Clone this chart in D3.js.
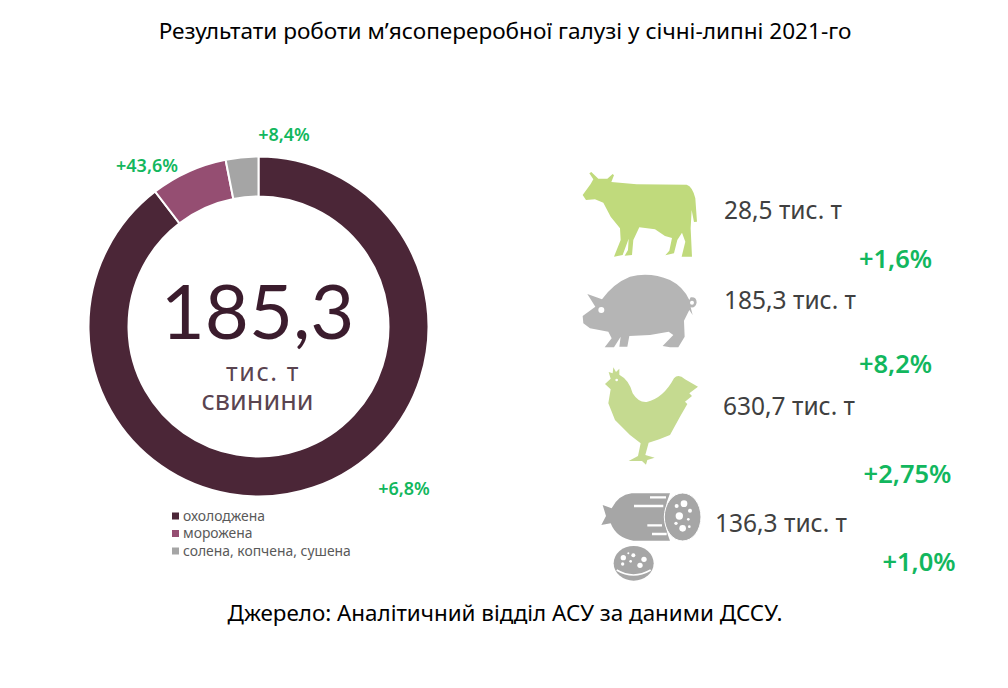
<!DOCTYPE html>
<html>
<head>
<meta charset="utf-8">
<title>М'ясопереробна галузь</title>
<script src="https://d3js.org/d3.v7.min.js"></script>
<style>
  html, body { margin: 0; background: #fff; }
  text { font-family: "Noto Sans", sans-serif; }
  .pct { fill: #12b75e; font-weight: 600; }
  .val { fill: #404040; }
</style>
</head>
<body>
<div id="chart"></div>
<script>
// частки сегментів кільця, %
const segmentNames = ["охолоджена", "морожена", "солена, копчена, сушена"];
const segmentShares = [89.6, 7.3, 3.1];
const segmentColors = ["#4b2637", "#954e72", "#a5a5a5"];
const segmentChanges = ["+6,8%", "+43,6%", "+8,4%"];

// права колонка
const meatValues = ["28,5 тис. т", "185,3 тис. т", "630,7 тис. т", "136,3 тис. т"];
const meatChanges = ["+1,6%", "+8,2%", "+2,75%", "+1,0%"];

const svg = d3.select("#chart").append("svg")
  .attr("width", 1008).attr("height", 688);

svg.append("text").attr("x", 505).attr("y", 39).attr("text-anchor", "middle")
  .attr("font-size", 22.6).attr("fill", "#000")
  .text("Результати роботи м’ясопереробної галузі у січні-липні 2021-го");

svg.append("text").attr("x", 505).attr("y", 621).attr("text-anchor", "middle")
  .attr("font-size", 22.4).attr("fill", "#000")
  .text("Джерело: Аналітичний відділ АСУ за даними ДССУ.");

// кільце
const ring = svg.append("g").attr("transform", "translate(258.5,326.5)");
const pie = d3.pie().sort(null)(segmentShares);
const arc = d3.arc().innerRadius(130).outerRadius(170);
ring.selectAll("path").data(pie).enter().append("path")
  .attr("d", arc)
  .attr("fill", (d, i) => segmentColors[i])
  .attr("stroke", "#fff").attr("stroke-width", 2);

ring.append("text").attr("x", -1).attr("y", 12).attr("text-anchor", "middle")
  .attr("font-size", 76).attr("fill", "#3b1c2d").style("font-family", "Lato")
  .text("185,3");
ring.append("text").attr("x", 4.5).attr("y", 54).attr("text-anchor", "middle")
  .attr("font-size", 25).attr("letter-spacing", 1.6).attr("fill", "#5a4450").text("тис. т");
ring.append("text").attr("x", -1).attr("y", 83).attr("text-anchor", "middle")
  .attr("font-size", 27).attr("fill", "#5a4450").text("свинини");

// підписи змін біля сегментів
const changeX = [404, 147, 284];
const changeY = [495, 172, 141];
svg.selectAll(".seg").data(segmentChanges).enter().append("text")
  .attr("class", "pct seg")
  .attr("x", (d, i) => changeX[i]).attr("y", (d, i) => changeY[i])
  .attr("text-anchor", "middle").attr("font-size", 18)
  .text(d => d);

// легенда
const legendY = d3.scalePoint().domain(segmentNames).range([516, 551]);
const legend = svg.selectAll(".lg").data(segmentNames).enter().append("g")
  .attr("class", "lg")
  .attr("transform", d => "translate(172," + legendY(d) + ")");
legend.append("rect").attr("x", 0).attr("y", -3.5).attr("width", 7).attr("height", 7)
  .attr("fill", (d, i) => segmentColors[i]);
legend.append("text").attr("x", 11).attr("y", 4.5)
  .attr("font-size", 13.9).attr("fill", "#595959").text(d => d);

// значення і зміни праворуч
const valueX = [724, 724, 723, 715];
const valueY = [219, 309, 415, 532];
const pctX = [895.5, 895.5, 907.5, 919];
const pctY = [268, 373, 483, 571];
svg.selectAll(".val").data(meatValues).enter().append("text")
  .attr("class", "val")
  .attr("x", (d, i) => valueX[i]).attr("y", (d, i) => valueY[i])
  .attr("font-size", 24.5).text(d => d);
svg.selectAll(".chg").data(meatChanges).enter().append("text")
  .attr("class", "pct chg")
  .attr("x", (d, i) => pctX[i]).attr("y", (d, i) => pctY[i])
  .attr("text-anchor", "middle").attr("font-size", 25.5).text(d => d);

// іконки: контури зняті зі збільшених фрагментів (масштаб 3:1)
const icons1 = svg.append("g").attr("transform", "translate(570,160) scale(0.3333)");
icons1.append("path").attr("fill", "#c0da7c").attr("d",
  "M38,105 L62,72 L70,58 L58,40 L64,36 L85,56 L112,56 L128,42 L132,46 L124,66 L200,73 L350,74 Q368,80 376,115 L381,185 L372,186 L365,150 L362,205 L366,290 L335,290 L346,245 L336,218 L322,240 L312,280 L286,286 L298,272 L306,234 L285,228 L255,208 L208,202 L190,240 L186,285 L164,287 L174,270 L176,236 L158,285 L132,290 L152,240 L150,205 L122,170 L100,128 L75,118 L48,120 Z");
icons1.append("path").attr("fill", "#b5b5b5").attr("d",
  "M38,468 L76,440 L52,402 L96,418 Q130,370 180,350 Q240,335 300,360 Q340,380 358,420 L362,412 Q380,410 380,428 Q376,445 362,442 L368,465 L358,450 L342,482 L344,530 L325,562 L300,562 L278,558 L310,525 L296,515 L240,525 L178,528 L172,560 L148,560 L152,530 L132,562 L104,562 L125,535 L115,515 L60,505 L40,490 Z");
icons1.append("circle").attr("cx", 94).attr("cy", 450).attr("r", 9).attr("fill", "#fff");
icons1.append("circle").attr("cx", 366).attr("cy", 428).attr("r", 6).attr("fill", "#fff");

const icons2 = svg.append("g").attr("transform", "translate(570,360) scale(0.3333)");
icons2.append("path").attr("fill", "#c5da90").attr("d",
  "M105,72 L122,56 L116,36 L128,40 L130,22 L138,36 L148,26 L148,44 Q178,60 188,100 Q205,128 230,126 Q280,115 312,55 Q325,40 345,58 L384,80 L358,100 L366,108 L345,125 L352,132 L330,170 L300,225 L268,238 L236,248 L226,285 L254,293 L232,300 L228,314 L216,303 L176,303 L204,288 L212,250 L180,225 L135,180 L115,130 L122,88 Z");
icons2.append("circle").attr("cx", 140).attr("cy", 60).attr("r", 4).attr("fill", "#fff");

// ковбаса
const sausage = "#a6a6a6";
icons2.append("path").attr("fill", sausage).attr("d",
  "M300,400 L185,400 Q145,405 125,445 L98,435 L108,468 L94,495 L122,490 Q140,535 190,542 L300,542 Q270,470 300,400 Z");
icons2.append("ellipse").attr("cx", 338).attr("cy", 471).attr("rx", 55).attr("ry", 72).attr("fill", sausage)
  .attr("stroke", "#fff").attr("stroke-width", 3);
icons2.append("path").attr("fill", "none").attr("stroke", "#fff").attr("stroke-width", 7)
  .attr("d", "M192,438 L280,438 M240,412 L288,412 M232,496 L276,496 M246,522 L290,522");
icons2.selectAll(".dot1").data([[342,431,10],[320,438,6],[360,452,6],[328,468,11],[355,478,4],[318,490,5],[338,505,10],[358,500,4]])
  .enter().append("circle").attr("cx", d => d[0]).attr("cy", d => d[1]).attr("r", d => d[2]).attr("fill", "#fff");
icons2.append("ellipse").attr("cx", 191).attr("cy", 610).attr("rx", 60).attr("ry", 52).attr("fill", sausage);
icons2.append("path").attr("fill", "none").attr("stroke", "#fff").attr("stroke-width", 5)
  .attr("d", "M140,630 Q190,660 242,630");
icons2.selectAll(".dot2").data([[160,593,8],[190,586,6],[222,598,8],[210,616,8],[158,612,5],[182,604,4],[175,580,3]])
  .enter().append("circle").attr("cx", d => d[0]).attr("cy", d => d[1]).attr("r", d => d[2]).attr("fill", "#fff");
</script>
</body>
</html>
